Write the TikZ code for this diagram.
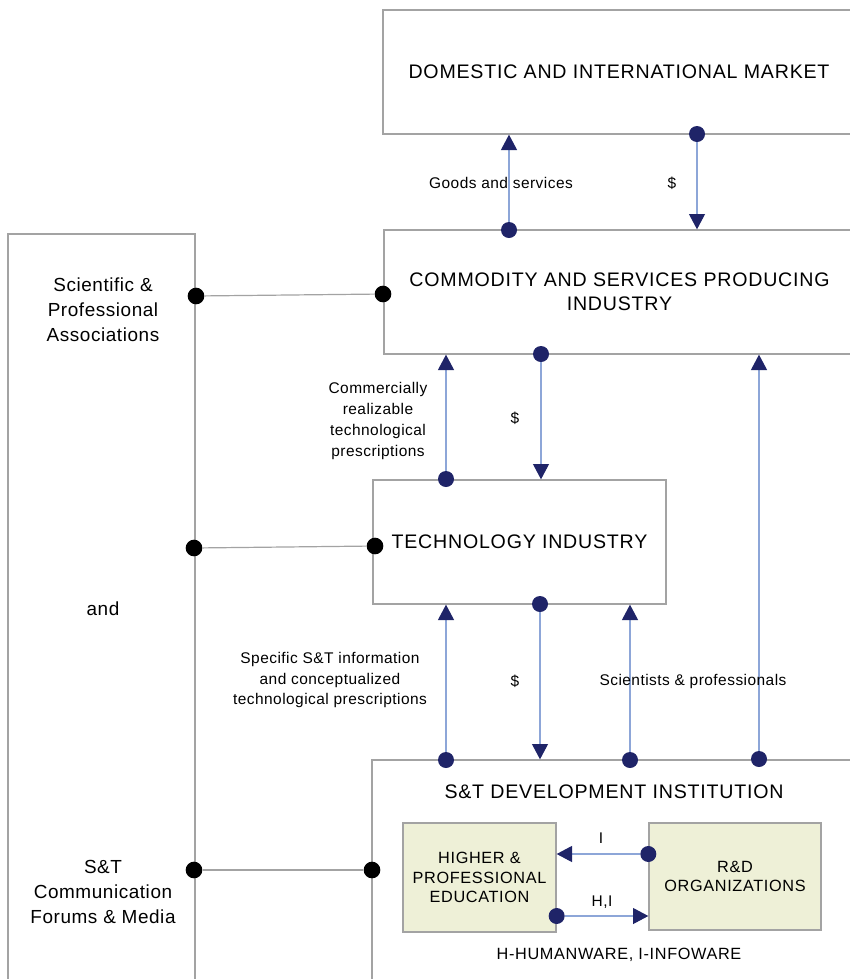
\documentclass[tikz,border=0pt]{standalone}
\usepackage{fontspec}
\setmainfont{Liberation Sans}
\usetikzlibrary{arrows.meta,positioning}

\newfontfamily\wideface[LetterSpace=4]{Liberation Sans}
\newfontfamily\labelface[LetterSpace=3]{Liberation Sans}

\definecolor{navydot}{HTML}{1F2468}
\definecolor{flowline}{HTML}{8DA6D8}
\definecolor{boxline}{HTML}{A3A3A3}
\definecolor{boxfill}{HTML}{EEF0D7}

\tikzset{
  block/.style={draw=boxline, line width=1pt, inner sep=0pt},
  subblock/.style={block, fill=boxfill},
  navy/.style={circle, fill=navydot, inner sep=0pt, minimum size=12pt},
  blackdot/.style={circle, fill=black, inner sep=0pt, minimum size=12.5pt},
  flow/.style={flowline, line width=0.8pt, -{Triangle[length=11.5pt,width=12pt,color=navydot]}},
  link/.style={boxline, line width=0.9pt},
  bigtxt/.style={font=\wideface\fontsize{14.7}{18}\selectfont, align=center},
  subtxt/.style={font=\wideface\fontsize{12.2}{14.6}\selectfont, align=center},
  sidetxt/.style={font=\labelface\fontsize{14.2}{18.8}\selectfont, align=center},
  lbl/.style={font=\labelface\fontsize{11.6}{15.6}\selectfont, align=center},
}

\begin{document}
\begin{tikzpicture}[x=0.75pt, y=-0.75pt]
  \useasboundingbox (0,0) rectangle (850,979);
  \clip (0,0) rectangle (850,979);

  % boxes
  \node[block, minimum width=354pt, minimum height=93pt] (market) at (619,72)
    [bigtxt] {DOMESTIC AND INTERNATIONAL MARKET};
  \node[block, minimum width=353.25pt, minimum height=93pt] (industry) at (619.5,292)
    [bigtxt] {COMMODITY AND SERVICES PRODUCING\\INDUSTRY};
  \node[block, minimum width=219.75pt, minimum height=93pt] (techind) at (519.5,542)
    [bigtxt] {TECHNOLOGY INDUSTRY};
  \node[block, minimum width=362.25pt, minimum height=168.75pt] (devinst) at (613.5,872.5) {};
  \node[block, minimum width=140.25pt, minimum height=563.25pt] (forum) at (101.5,609.5) {};

  \node[bigtxt] (devtitle) at (614,792) {S\&T DEVELOPMENT INSTITUTION};
  \node[subblock, minimum width=114.75pt, minimum height=81.75pt] (higher) at (479.5,877.5)
    [subtxt] {HIGHER \&\\PROFESSIONAL\\EDUCATION};
  \node[subblock, minimum width=129pt, minimum height=80.25pt] (rnd) at (735,876.5)
    [subtxt] {R\&D\\ORGANIZATIONS};
  \node[subtxt] (legend) at (619,955) {H-HUMANWARE, I-INFOWARE};

  % left column
  \node[sidetxt] (assoc) at (103,310) {Scientific \&\\Professional\\Associations};
  \node[sidetxt] (andtxt) at (103,609) {and};
  \node[sidetxt] (media) at (103,892) {S\&T\\Communication\\Forums \& Media};

  % flows between the boxes
  \node[navy] (goods) at (509,230) {};
  \node[navy] (pay1) at (697,134) {};
  \node[navy] (pay2) at (541,354) {};
  \node[navy] (presc) at (446,479) {};
  \node[navy] (pay3) at (540,604) {};
  \node[navy] (info) at (446,760) {};
  \node[navy] (sci1) at (630,760) {};
  \node[navy] (sci2) at (759,759) {};
  \node[navy] (infoflow) at (rnd.west |- 0,854) {};
  \node[navy] (hiflow) at (higher.east |- 0,916) {};

  \draw[flow] (goods) -- (goods |- market.south);
  \draw[flow] (pay1) -- (pay1 |- industry.north);
  \draw[flow] (pay2) -- (pay2 |- techind.north);
  \draw[flow] (presc) -- (presc |- industry.south);
  \draw[flow] (pay3) -- (pay3 |- devinst.north);
  \draw[flow] (info) -- (info |- techind.south);
  \draw[flow] (sci1) -- (sci1 |- techind.south);
  \draw[flow] (sci2) -- (sci2 |- industry.south);
  \draw[flow] (infoflow) -- (infoflow -| higher.east);
  \draw[flow] (hiflow) -- (hiflow -| rnd.west);

  \node[lbl] (goodslbl) at (501,183) {Goods and services};
  \node[lbl] (pay1lbl) at (672,183) {\$};
  \node[lbl] (presclbl) at (378,421) {Commercially\\realizable\\technological\\prescriptions};
  \node[lbl] (pay2lbl) at (515,418) {\$};
  \node[lbl] (infolbl) at (330,680) {Specific S\&T information\\and conceptualized\\technological prescriptions};
  \node[lbl] (pay3lbl) at (515,681) {\$};
  \node[lbl] (scilbl) at (693,681) {Scientists \& professionals};
  \node[lbl] (ilbl) at (601,838) {I};
  \node[lbl] (hilbl) at (602,902) {H,I};

  % links to the forums
  \node[blackdot] (f1) at (196,296) {};
  \node[blackdot] (i1) at (383,294) {};
  \node[blackdot] (f2) at (194,548) {};
  \node[blackdot] (t1) at (375,546) {};
  \node[blackdot] (f3) at (194,870) {};
  \node[blackdot] (d1) at (372,870) {};
  \draw[link] (f1) -- (i1);
  \draw[link] (f2) -- (t1);
  \draw[link] (f3) -- (d1);
\end{tikzpicture}
\end{document}
